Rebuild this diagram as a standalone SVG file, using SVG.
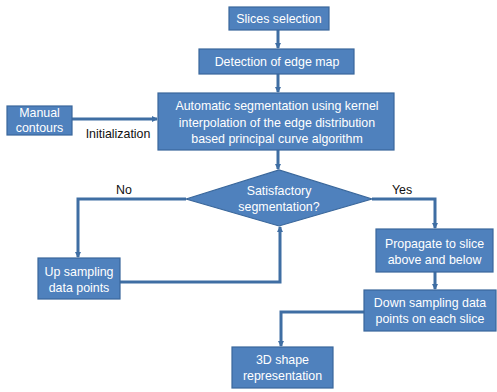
<svg xmlns="http://www.w3.org/2000/svg" width="497" height="392" viewBox="0 0 497 392">
<defs>
<marker id="ah" markerWidth="6" markerHeight="6" refX="5" refY="3" orient="auto" markerUnits="userSpaceOnUse">
<path d="M0,0 L6,3 L0,6 Z" fill="#3F6EA3"/>
</marker>
<style>
.box{fill:#4F81BD;stroke:#3A679B;stroke-width:1.2}
.t{font-family:"Liberation Sans",Arial,sans-serif;font-size:12.4px;fill:#FFFFFF;text-anchor:middle}
.l{font-family:"Liberation Sans",Arial,sans-serif;font-size:12.4px;fill:#111111;text-anchor:middle}
.c{fill:none;stroke:#3F6EA3;stroke-width:3;marker-end:url(#ah)}
</style>
</defs>
<g id="connectors">
<path class="c" d="M278,30 V48"/>
<path class="c" d="M278,74 V92"/>
<path class="c" d="M72,119 H157"/>
<path class="c" d="M278,150 V169"/>
<path class="c" d="M186,199 H78 V257"/>
<path class="c" d="M372,199 H435 V228"/>
<path class="c" d="M120,282 H280 V227"/>
<path class="c" d="M435,272 V289"/>
<path class="c" d="M364,312 H281 V346"/>
</g>
<g id="slices">
<rect class="box" x="229" y="7" width="100" height="23"/>
<text class="t" x="279" y="22.5">Slices selection</text>
</g>
<g id="edge">
<rect class="box" x="199" y="49" width="155" height="25"/>
<text class="t" x="277" y="66">Detection of edge map</text>
</g>
<g id="auto">
<rect class="box" x="158" y="93" width="236" height="57"/>
<text class="t" x="277" y="110">Automatic segmentation using kernel</text>
<text class="t" x="277" y="127">interpolation of the edge distribution</text>
<text class="t" x="277" y="143">based principal curve algorithm</text>
</g>
<g id="manual">
<rect class="box" x="7" y="106" width="65" height="29"/>
<text class="t" x="39.5" y="116.5">Manual</text>
<text class="t" x="39.5" y="132">contours</text>
</g>
<text class="l" x="118" y="137.5">Initialization</text>
<g id="decision">
<polygon class="box" points="186,199 279,170 372,199 279,226"/>
<text class="t" x="279" y="195">Satisfactory</text>
<text class="t" x="279" y="211">segmentation?</text>
</g>
<text class="l" x="124" y="194">No</text>
<text class="l" x="402" y="194">Yes</text>
<g id="up">
<rect class="box" x="38" y="258" width="82" height="41"/>
<text class="t" x="79" y="276">Up sampling</text>
<text class="t" x="79" y="291.5">data points</text>
</g>
<g id="propagate">
<rect class="box" x="376" y="229" width="117" height="43"/>
<text class="t" x="434.5" y="248">Propagate to slice</text>
<text class="t" x="434.5" y="263.5">above and below</text>
</g>
<g id="down">
<rect class="box" x="364" y="290" width="132" height="41"/>
<text class="t" x="430" y="307">Down sampling data</text>
<text class="t" x="430" y="323">points on each slice</text>
</g>
<g id="shape3d">
<rect class="box" x="232" y="347" width="101" height="41"/>
<text class="t" x="282.5" y="364">3D shape</text>
<text class="t" x="282.5" y="380">representation</text>
</g>
</svg>
